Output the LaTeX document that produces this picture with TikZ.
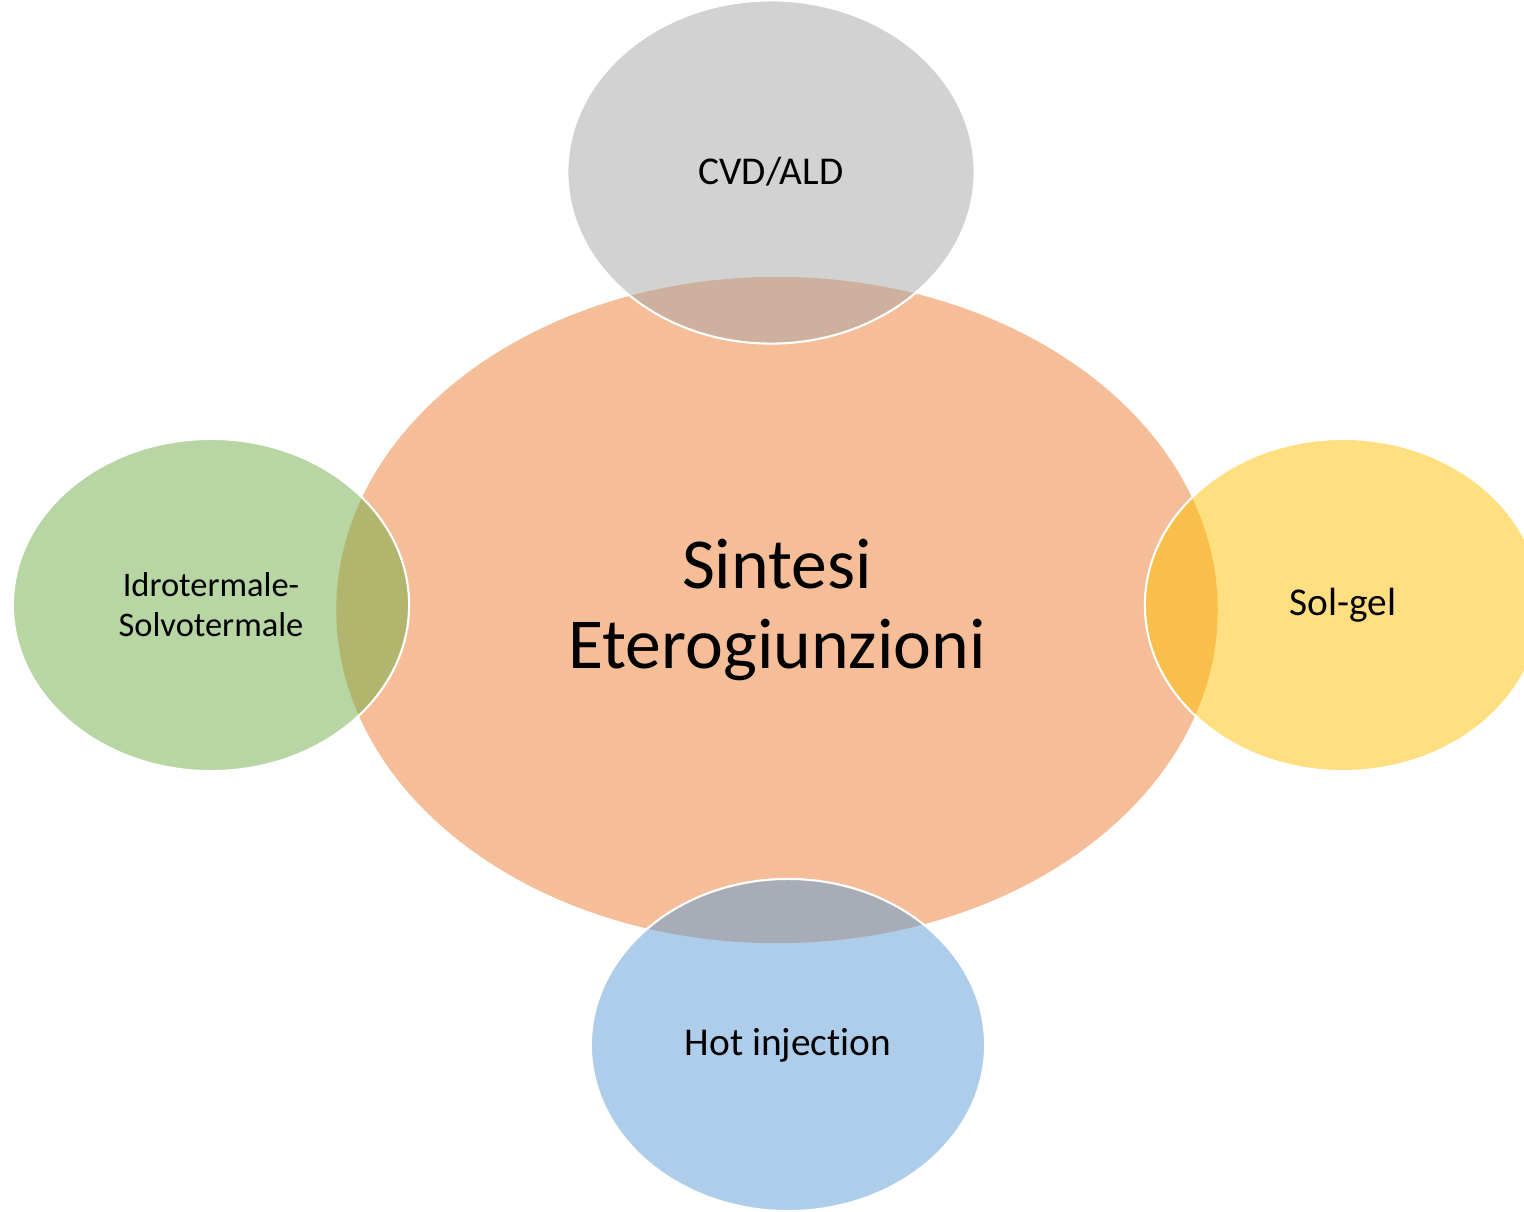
\documentclass[tikz,border=0pt]{standalone}
\usepackage{fontspec}
\setmainfont{Carlito}[Ligatures=NoCommon]
\usepackage{tikz}
\usetikzlibrary{shapes.geometric}
\definecolor{sintorange}{RGB}{237,125,49}
\definecolor{cvdgray}{RGB}{165,165,165}
\definecolor{idrogreen}{RGB}{112,173,71}
\definecolor{solyellow}{RGB}{255,192,0}
\definecolor{hotblue}{RGB}{91,155,213}

\tikzset{
  blob/.style={ellipse, inner sep=0pt, fill opacity=0.5, text opacity=1, align=center},
  satellite/.style={blob, draw=white, line width=0.6pt, font=\fontsize{11.2}{13.5}\selectfont}
}

\begin{document}
\begin{tikzpicture}[x=0.01cm,y=-0.01cm]
    \useasboundingbox (0,0) rectangle (1524,1211);
    \clip (0,0) rectangle (1524,1211);

    % Central ellipse
    \node[blob,fill=sintorange,minimum width=8.81cm,minimum height=6.66cm,
          font=\fontsize{20.4}{22.8}\selectfont] (sintesi) at (777,610) {Sintesi\\Eterogiunzioni};

    % Methods around it
    \node[satellite,fill=cvdgray,minimum width=4.07cm,minimum height=3.43cm] (cvd) at (771,172) {CVD/ALD};
    \node[satellite,fill=idrogreen,minimum width=3.96cm,minimum height=3.32cm,
          font=\fontsize{9.8}{11.4}\selectfont] (idro) at (211,605) {Idrotermale-\\Solvotermale};
    \node[satellite,fill=solyellow,minimum width=3.96cm,minimum height=3.32cm] (solgel) at (1343,605) {Sol-gel};
    \node[satellite,fill=hotblue,minimum width=3.94cm,minimum height=3.32cm] (hot) at (788,1045) {Hot injection};
\end{tikzpicture}
\end{document}
